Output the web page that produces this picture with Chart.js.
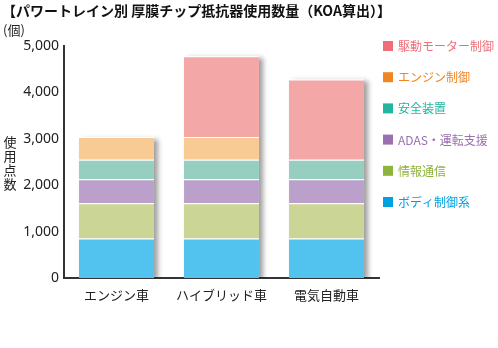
<!DOCTYPE html>
<html><head><meta charset="utf-8">
<script src="https://cdn.jsdelivr.net/npm/chart.js@4.4.1/dist/chart.umd.min.js"></script>
<style>html,body{margin:0;padding:0;background:#fff}#wrap{width:498px;height:348px}</style>
</head><body><div id="wrap"><canvas id="c" width="498" height="348"></canvas></div>
<script>
const categories = ['エンジン車', 'ハイブリッド車', '電気自動車'];
const seriesNames = ['ボディ制御系', '情報通信', 'ADAS・運転支援', '安全装置', 'エンジン制御', '駆動モーター制御'];
const bodyCtrl = [850, 850, 850];
const infoComm = [760, 760, 760];
const adas = [520, 520, 520];
const safety = [420, 420, 420];
const engineCtrl = [490, 490, null];
const motorCtrl = [null, 1740, 1730];
const yTicks = [0, 1000, 2000, 3000, 4000, 5000];
const titleText = '【パワートレイン別 厚膜チップ抵抗器使用数量（KOA算出）】';
const unitText = '(個)';
const yTitleText = '使用点数';

const barColors = ['#52c2ef', '#cbd595', '#bca0cc', '#96cfbf', '#f9cb94', '#f4a7a7'];
const legendColors = ['#00a0e2', '#8fb43e', '#9a70b0', '#22b6a0', '#f08522', '#ee6f7a'];
const seriesData = [bodyCtrl, infoComm, adas, safety, engineCtrl, motorCtrl];

const JP = '"Noto Sans CJK JP", "Noto Sans", sans-serif';

const shadowPlugin = {
  id: 'barShadow',
  beforeDatasetsDraw(chart) {
    const ctx = chart.ctx;
    const ys = chart.scales.y;
    ctx.save();
    ctx.beginPath();
    ctx.rect(chart.chartArea.left, 0, chart.width, ys.getPixelForValue(0));
    ctx.clip();
    ctx.shadowColor = 'rgba(0,0,0,0.38)';
    ctx.shadowBlur = 5;
    ctx.shadowOffsetX = 4;
    ctx.shadowOffsetY = 2;
    ctx.fillStyle = '#ffffff';
    for (let j = 0; j < categories.length; j++) {
      let top = Infinity, x = null, w = null;
      chart.data.datasets.forEach((ds, i) => {
        if (ds.data[j] == null) return;
        const el = chart.getDatasetMeta(i).data[j];
        if (!el) return;
        top = Math.min(top, el.y);
        x = el.x; w = el.width;
      });
      if (x === null) continue;
      const bottom = ys.getPixelForValue(0);
      ctx.fillRect(x - w / 2, top, w, bottom - top);
    }
    ctx.restore();
  }
};

const textPlugin = {
  id: 'texts',
  afterDraw(chart) {
    const ctx = chart.ctx;
    ctx.save();
    ctx.fillStyle = '#111';
    ctx.textBaseline = 'middle';
    ctx.textAlign = 'left';
    ctx.font = 'bold 14px ' + JP;
    ctx.fillText(titleText, 2, 11);
    ctx.font = '13px ' + JP;
    ctx.fillStyle = '#222';
    ctx.fillText(unitText, 3, 30);
    ctx.textAlign = 'center';
    const chars = Array.from(yTitleText);
    chars.forEach((ch, k) => ctx.fillText(ch, 10, 142 + k * 14));
    // legend
    ctx.textAlign = 'left';
    ctx.font = '12px ' + JP;
    for (let k = 0; k < seriesNames.length; k++) {
      const idx = seriesNames.length - 1 - k;
      const y = 46 + k * 31.2;
      ctx.fillStyle = legendColors[idx];
      ctx.fillRect(383, y - 5, 10, 10);
      ctx.fillText(seriesNames[idx], 398, y + 0.5);
    }
    ctx.restore();
  }
};

new Chart(document.getElementById('c'), {
  type: 'bar',
  data: {
    labels: categories,
    datasets: seriesNames.map((n, i) => ({
      label: n,
      data: seriesData[i],
      backgroundColor: barColors[i],
      borderColor: '#ffffff',
      borderWidth: {top: 1, left: 0, right: 0, bottom: 0},
      borderSkipped: false,
      barPercentage: 0.714,
      categoryPercentage: 1
    }))
  },
  options: {
    responsive: false,
    animation: false,
    devicePixelRatio: 1,
    layout: {padding: {top: 46, right: 119, bottom: 0, left: 0}},
    plugins: {legend: {display: false}, title: {display: false}, tooltip: {enabled: false}},
    scales: {
      x: {
        stacked: true,
        grid: {display: false, drawTicks: false},
        border: {display: true, color: '#333', width: 2},
        ticks: {color: '#222', font: {family: JP, size: 13}, padding: 9},
        afterFit(s) { s.height = 70; }
      },
      y: {
        stacked: true,
        min: 0, max: 5000,
        afterBuildTicks(s) { s.ticks = yTicks.map(v => ({value: v})); },
        grid: {display: false, drawTicks: false},
        border: {display: true, color: '#333', width: 2},
        ticks: {color: '#222', font: {family: '"Noto Sans", sans-serif', size: 14}, padding: 5,
          callback: v => v.toLocaleString('en-US')},
        afterFit(s) { s.width = 64; }
      }
    }
  },
  plugins: [shadowPlugin, textPlugin]
});
</script></body></html>
